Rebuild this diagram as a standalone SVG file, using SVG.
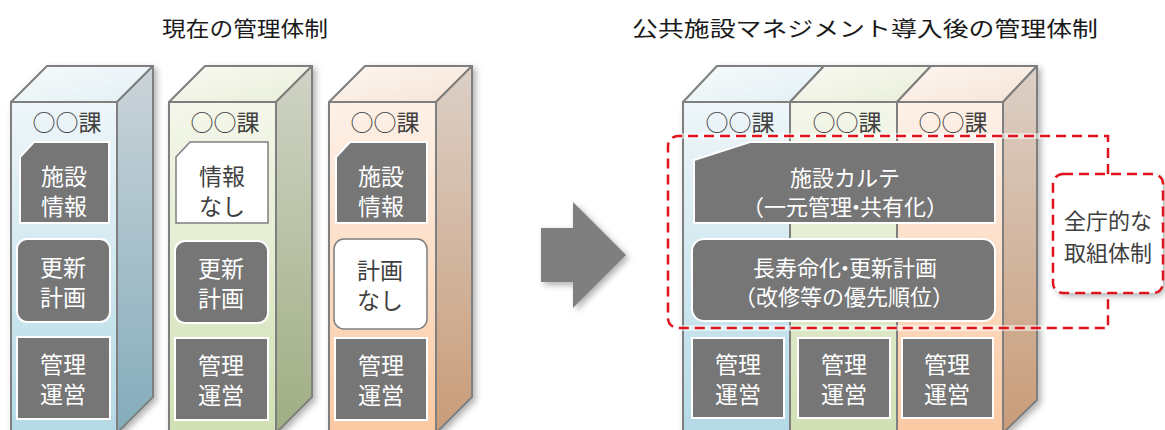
<svg xmlns="http://www.w3.org/2000/svg" width="1165" height="430" viewBox="0 0 1165 430">
<defs>
<linearGradient id="fB" x1="0" y1="0" x2="0" y2="1"><stop offset="0" stop-color="#eef6f9"/><stop offset="1" stop-color="#b2d9e6"/></linearGradient>
<linearGradient id="fG" x1="0" y1="0" x2="0" y2="1"><stop offset="0" stop-color="#f4f7ea"/><stop offset="1" stop-color="#d0e0b2"/></linearGradient>
<linearGradient id="fO" x1="0" y1="0" x2="0" y2="1"><stop offset="0" stop-color="#fdf1e8"/><stop offset="1" stop-color="#fbc8a0"/></linearGradient>
<linearGradient id="sB" x1="0" y1="0" x2="0" y2="1"><stop offset="0" stop-color="#cbd4d9"/><stop offset="1" stop-color="#83acbb"/></linearGradient>
<linearGradient id="sG" x1="0" y1="0" x2="0" y2="1"><stop offset="0" stop-color="#d0d3c6"/><stop offset="1" stop-color="#9fae82"/></linearGradient>
<linearGradient id="sO" x1="0" y1="0" x2="0" y2="1"><stop offset="0" stop-color="#dcd0c7"/><stop offset="1" stop-color="#c99c78"/></linearGradient>
<linearGradient id="tB" x1="0" y1="0" x2="1" y2="1"><stop offset="0" stop-color="#f7fbfc"/><stop offset="1" stop-color="#e2eff4"/></linearGradient>
<linearGradient id="tG" x1="0" y1="0" x2="1" y2="1"><stop offset="0" stop-color="#f9faf3"/><stop offset="1" stop-color="#e8eed8"/></linearGradient>
<linearGradient id="tO" x1="0" y1="0" x2="1" y2="1"><stop offset="0" stop-color="#fdf7f2"/><stop offset="1" stop-color="#f6e3d5"/></linearGradient>
<filter id="sh" x="-20%" y="-20%" width="140%" height="140%"><feDropShadow dx="3" dy="3" stdDeviation="3" flood-color="#000" flood-opacity="0.3"/></filter>
</defs>
<style>
.edge{stroke:#7f7f7f;stroke-width:2;stroke-linejoin:round}
.gbox{fill:#767676;stroke:#fff;stroke-width:2}
.wbox{fill:#fff;stroke:#7f7f7f;stroke-width:1.5}
text{font-family:"Noto Sans CJK JP","Noto Sans CJK SC",sans-serif;text-anchor:middle;dominant-baseline:central}
.h{font-size:21px;fill:#1a1a1a}
.lbl{font-size:23px;fill:#404040}
.wt{font-size:23px;fill:#fff}
.dt{font-size:23px;fill:#404040}
.bt{font-size:22px;fill:#fff}
.dash{fill:none;stroke:#e0141e;stroke-width:2.5;stroke-dasharray:10 6}
</style>

<g id="title-left"><text class="h" x="245" y="27" textLength="166" lengthAdjust="spacingAndGlyphs">現在の管理体制</text></g>
<g id="title-right"><text class="h" x="865" y="27" textLength="466" lengthAdjust="spacingAndGlyphs">公共施設マネジメント導入後の管理体制</text></g>

<!-- Left column 1 (blue) -->
<g id="col1">
<g filter="url(#sh)">
<polygon class="edge" fill="url(#tB)" points="11,102 117,102 153,66 47,66"/>
<polygon class="edge" fill="url(#sB)" points="117,102 153,66 153,397 117,433"/>
<rect class="edge" fill="url(#fB)" x="11" y="102" width="106" height="340"/>
</g>
<text class="lbl" x="67" y="121">○○課</text>
<path class="gbox" d="M20,157 L34,142 H109 V223 H20 Z"/>
<text class="wt" x="64" y="175">施設</text><text class="wt" x="64" y="205">情報</text>
<rect class="gbox" x="17" y="239" width="93" height="83" rx="10"/>
<text class="wt" x="63" y="266">更新</text><text class="wt" x="63" y="296">計画</text>
<rect class="gbox" x="17" y="337" width="93" height="82"/>
<text class="wt" x="63" y="363">管理</text><text class="wt" x="63" y="393">運営</text>
</g>

<!-- Left column 2 (green) -->
<g id="col2">
<g filter="url(#sh)">
<polygon class="edge" fill="url(#tG)" points="169,102 276,102 312,66 205,66"/>
<polygon class="edge" fill="url(#sG)" points="276,102 312,66 312,397 276,433"/>
<rect class="edge" fill="url(#fG)" x="169" y="102" width="107" height="340"/>
</g>
<text class="lbl" x="225" y="121">○○課</text>
<path class="wbox" d="M176,157 L190,142 H268 V223 H176 Z"/>
<text class="dt" x="222" y="175">情報</text><text class="dt" x="222" y="205">なし</text>
<rect class="gbox" x="175" y="241" width="93" height="82" rx="10"/>
<text class="wt" x="221" y="267">更新</text><text class="wt" x="221" y="297">計画</text>
<rect class="gbox" x="175" y="338" width="93" height="82"/>
<text class="wt" x="221" y="364">管理</text><text class="wt" x="221" y="394">運営</text>
</g>

<!-- Left column 3 (orange) -->
<g id="col3">
<g filter="url(#sh)">
<polygon class="edge" fill="url(#tO)" points="329,102 436,102 472,66 365,66"/>
<polygon class="edge" fill="url(#sO)" points="436,102 472,66 472,397 436,433"/>
<rect class="edge" fill="url(#fO)" x="329" y="102" width="107" height="340"/>
</g>
<text class="lbl" x="385" y="121">○○課</text>
<path class="gbox" d="M336,157 L350,142 H427 V223 H336 Z"/>
<text class="wt" x="381" y="175">施設</text><text class="wt" x="381" y="205">情報</text>
<rect class="wbox" x="334" y="239" width="93" height="90" rx="10"/>
<text class="dt" x="380" y="269">計画</text><text class="dt" x="380" y="299">なし</text>
<rect class="gbox" x="335" y="338" width="92" height="82"/>
<text class="wt" x="381" y="364">管理</text><text class="wt" x="381" y="394">運営</text>
</g>

<!-- Right merged block -->
<g id="block">
<g filter="url(#sh)">
<polygon class="edge" fill="url(#tB)" points="683,102 790,102 824,66 717,66"/>
<polygon class="edge" fill="url(#tG)" points="790,102 897,102 931,66 824,66"/>
<polygon class="edge" fill="url(#tO)" points="897,102 1003,102 1037,66 931,66"/>
<polygon class="edge" fill="url(#sO)" points="1003,102 1037,66 1037,400 1003,433"/>
<rect class="edge" fill="url(#fB)" x="683" y="102" width="107" height="340"/>
<rect class="edge" fill="url(#fG)" x="790" y="102" width="107" height="340"/>
<rect class="edge" fill="url(#fO)" x="897" y="102" width="106" height="340"/>
</g>
<text class="lbl" x="740" y="121">○○課</text>
<text class="lbl" x="847" y="121">○○課</text>
<text class="lbl" x="953" y="121">○○課</text>
</g>

<g id="karte">
<path class="gbox" d="M694,160 L750,142 H995 V223 H694 Z"/>
<text class="bt" x="845" y="176">施設カルテ</text>
<text class="bt" x="845" y="205">（一元管理<tspan dx="-7">・</tspan><tspan dx="-7">共有化）</tspan></text>
</g>
<g id="plan">
<rect class="gbox" x="692" y="239" width="303" height="82" rx="12"/>
<text class="bt" x="845" y="266">長寿命化<tspan dx="-7">・</tspan><tspan dx="-7">更新計画</tspan></text>
<text class="bt" x="844" y="295">（改修等の優先順位）</text>
</g>
<g id="ops1"><rect class="gbox" x="692" y="338" width="92" height="80"/>
<text class="wt" x="738" y="363">管理</text><text class="wt" x="738" y="393">運営</text></g>
<g id="ops2"><rect class="gbox" x="798" y="338" width="92" height="80"/>
<text class="wt" x="844" y="363">管理</text><text class="wt" x="844" y="393">運営</text></g>
<g id="ops3"><rect class="gbox" x="902" y="338" width="91" height="80"/>
<text class="wt" x="947" y="363">管理</text><text class="wt" x="947" y="393">運営</text></g>

<g id="connectors">
<polygon filter="url(#sh)" fill="#7f7f7f" points="541,228 573,228 573,202 626,255 573,308 573,282 541,282"/>
<path d="M1108,174 V136 H678 A10,10 0 0 0 668,146 V318 A10,10 0 0 0 678,328 H1108 V293" fill="none" stroke="#fff" stroke-opacity="0.5" stroke-width="6"/>
<path class="dash" d="M1108,174 V136 H678 A10,10 0 0 0 668,146 V318 A10,10 0 0 0 678,328 H1108 V293"/>
</g>

<g id="callout">
<rect filter="url(#sh)" x="1053" y="174" width="110" height="119" rx="10" fill="#fff"/>
<rect class="dash" x="1053" y="174" width="110" height="119" rx="10"/>
<text class="dt" x="1108" y="219" style="font-size:22px">全庁的な</text>
<text class="dt" x="1108" y="251" style="font-size:22px">取組体制</text>
</g>
</svg>
